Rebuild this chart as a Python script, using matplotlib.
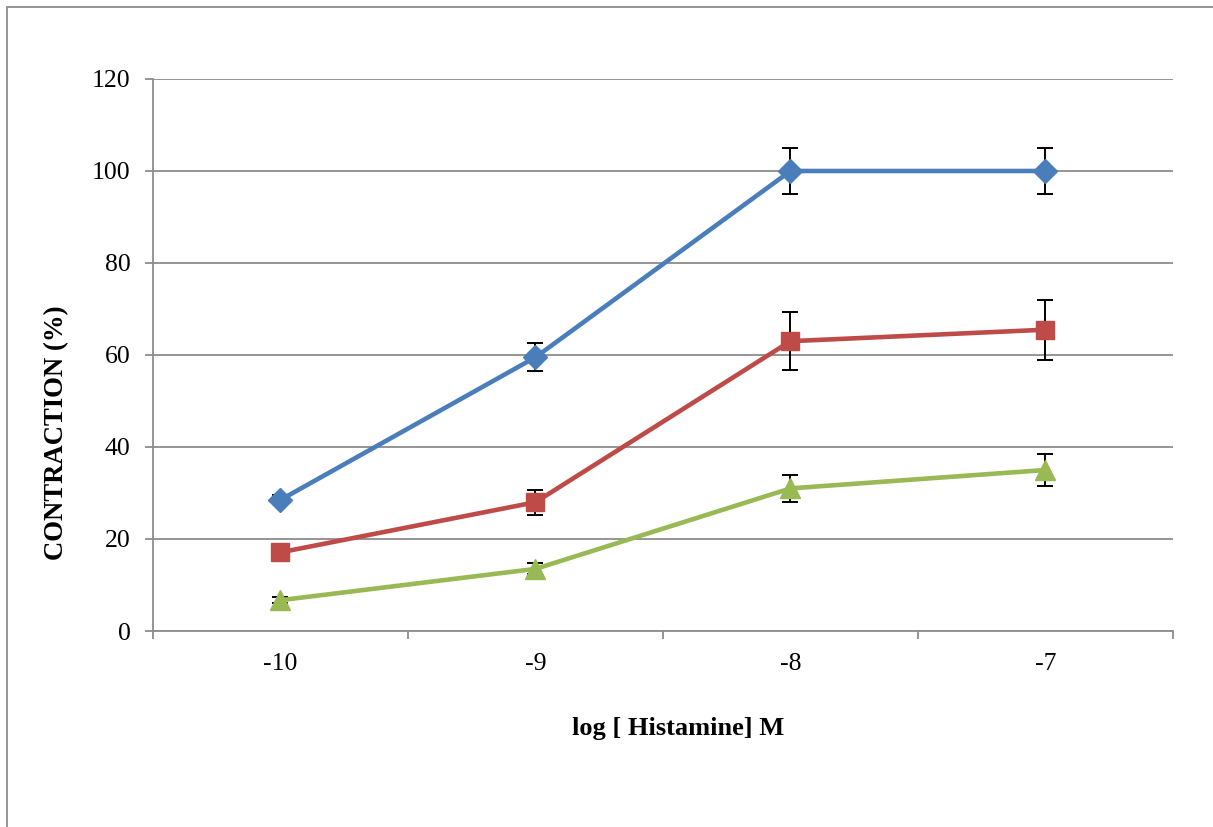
import matplotlib.pyplot as plt
import numpy as np
from matplotlib.patches import Rectangle

plt.rcParams['font.family'] = ['Liberation Serif', 'DejaVu Serif']

categories = ['-10', '-9', '-8', '-7']
blue = [28.5, 59.5, 100, 100]
blue_err = [1.0, 3.0, 5.0, 5.0]
red = [17.1, 28.0, 63.0, 65.5]
red_err = [0.5, 2.7, 6.3, 6.5]
green = [6.7, 13.5, 31.0, 35.0]
green_err = [0.6, 1.2, 3.0, 3.5]

fig = plt.figure(figsize=(12.13, 8.27), dpi=100)
ax = fig.add_axes([0.1261, 0.237, 0.8409, 0.6675])

# outer chart border
fig.patches.append(Rectangle((7/1213, -0.05), 1.1, 1 - 7/827 + 0.05,
                             transform=fig.transFigure, fill=False,
                             edgecolor='#8c8c8c', linewidth=1.3))

x = np.arange(len(categories))
series = [(blue, blue_err, '#4A7EBB', 'D', 12.5),
          (red, red_err, '#BE4B48', 's', 13.5),
          (green, green_err, '#98B954', '^', 14.5)]
for y, e, c, m, ms in series:
    ax.errorbar(x, y, yerr=e, fmt='none', ecolor='black', elinewidth=1.4,
                capsize=6, capthick=1.4, zorder=3)
    ax.plot(x, y, color=c, linewidth=3.3, marker=m, markersize=ms,
            markeredgecolor=c, zorder=4)

ax.set_xlim(-0.5, 3.5)
ax.set_ylim(0, 120)
ax.set_yticks(np.arange(0, 121, 20))
ax.set_xticks(x)
ax.set_xticklabels(categories)
ax.set_xticks(np.arange(-0.5, 3.6, 1), minor=True)
ax.tick_params(axis='x', which='major', length=0, pad=16, labelsize=18.5)
ax.tick_params(axis='x', which='minor', length=6, width=1.3, color='#8c8c8c', direction='out')
ax.tick_params(axis='y', length=6, width=1.3, color='#8c8c8c', direction='out', labelsize=18.5, pad=10)

ax.grid(axis='y', color='#8c8c8c', linewidth=1.3)
ax.set_axisbelow(True)
for s in ['top', 'right']:
    ax.spines[s].set_visible(False)
for s in ['left', 'bottom']:
    ax.spines[s].set_color('#8c8c8c')
    ax.spines[s].set_linewidth(1.3)

ax.set_xlabel('log [ Histamine] M', fontsize=19, fontweight='bold')
ax.set_ylabel('CONTRACTION (%)', fontsize=19.3, fontweight='bold')
ax.xaxis.set_label_coords(0.515, -0.155)
ax.yaxis.set_label_coords(-0.082, 0.359)

fig.savefig('out.png', dpi=100)
